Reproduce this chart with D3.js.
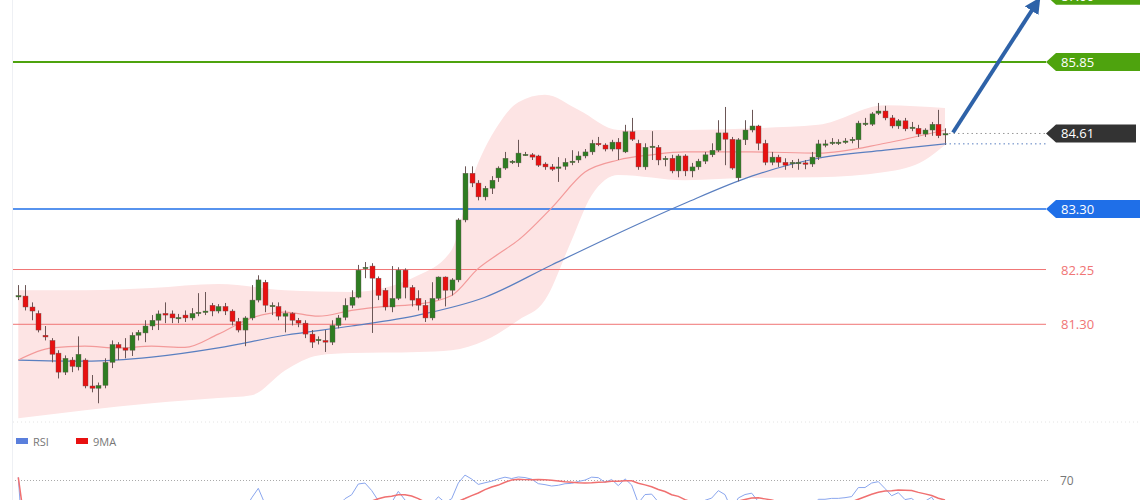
<!DOCTYPE html>
<html>
<head>
<meta charset="utf-8">
<script src="https://cdn.jsdelivr.net/npm/d3@7"></script>
<style>
  body { margin: 0; background: #fff; }
  svg { display: block; font-family: "Open Sans", "DejaVu Sans", sans-serif; }
</style>
</head>
<body>
<svg id="chart" width="1140" height="500"></svg>
<script>
// candles, one per bar
const open = [81.78,81.79,81.60,81.49,81.11,81.02,80.80,80.47,80.68,80.56,80.68,80.23,80.19,80.24,80.64,80.95,80.89,80.85,81.11,81.15,
  81.27,81.37,81.49,81.48,81.41,81.46,81.41,81.49,81.51,81.63,81.53,81.61,81.53,81.35,81.20,81.41,81.72,82.03,81.61,81.61,
  81.44,81.49,81.37,81.32,81.13,81.02,81.02,80.99,81.28,81.42,81.63,81.77,82.28,82.31,82.10,81.89,81.60,81.75,82.24,81.94,
  81.75,81.63,81.41,81.75,82.12,81.89,82.07,83.11,83.92,83.75,83.51,83.66,83.84,84.01,84.11,84.10,84.25,84.24,84.22,84.08,
  84.03,84.01,84.04,84.11,84.15,84.22,84.29,84.44,84.41,84.34,84.46,84.29,84.64,84.44,84.03,84.37,84.37,84.17,84.18,83.96,
  84.22,83.96,84.03,84.13,84.24,84.32,84.62,84.51,83.84,84.50,84.67,84.74,84.44,84.11,84.20,84.11,84.10,84.10,84.10,84.08,
  84.20,84.41,84.44,84.44,84.46,84.50,84.50,84.77,84.77,84.96,85.00,84.88,84.74,84.83,84.70,84.70,84.60,84.67,84.77,84.60];
const high = [81.98,81.98,81.68,81.54,81.27,81.06,80.85,80.76,80.73,81.09,80.71,80.42,80.29,80.71,81.02,80.99,81.06,81.16,81.20,81.37,
  81.46,81.54,81.68,81.54,81.48,81.54,81.58,81.84,81.86,81.67,81.65,81.67,81.56,81.41,81.44,81.98,82.15,82.07,81.68,81.68,
  81.54,81.51,81.41,81.37,81.20,81.09,81.20,81.37,81.46,81.75,81.89,82.33,82.38,82.36,82.13,81.93,82.31,82.29,82.27,81.98,
  81.89,81.72,82.03,82.13,82.13,82.10,83.14,84.04,84.04,83.80,83.70,83.87,84.04,84.29,84.15,84.50,84.29,84.27,84.24,84.11,
  84.08,84.20,84.18,84.32,84.30,84.34,84.50,84.55,84.44,84.50,84.53,84.76,84.88,84.50,84.44,84.65,84.41,84.22,84.24,84.25,
  84.25,84.10,84.17,84.29,84.44,84.84,85.07,84.55,84.53,84.84,85.02,84.76,84.50,84.29,84.24,84.18,84.15,84.17,84.15,84.29,
  84.50,84.50,84.53,84.51,84.53,84.55,84.83,84.88,84.98,85.14,85.09,84.93,84.86,84.88,84.81,84.76,84.70,84.81,85.02,84.70];
const low = [81.72,81.54,81.37,81.16,81.02,80.64,80.36,80.42,80.47,80.50,80.19,80.12,79.93,80.19,80.54,80.68,80.71,80.75,81.02,80.99,
  81.20,81.20,81.32,81.32,81.32,81.34,81.37,81.44,81.46,81.44,81.49,81.46,81.28,81.16,80.92,81.37,81.68,81.51,81.46,81.37,
  81.16,81.28,81.25,81.06,80.89,80.95,80.82,80.94,81.23,81.37,81.58,81.75,82.10,81.15,81.72,81.54,81.51,81.72,81.75,81.61,
  81.54,81.34,81.37,81.72,81.61,81.80,82.03,83.07,83.68,83.45,83.45,83.56,83.77,83.98,84.08,84.03,84.22,84.15,84.03,83.98,
  83.96,83.77,83.98,84.06,84.10,84.18,84.24,84.39,84.30,84.30,84.15,84.27,84.48,83.98,83.98,84.15,84.06,84.04,83.92,83.85,
  83.87,83.85,83.98,84.08,84.20,84.29,84.06,83.98,83.78,84.41,84.63,84.32,84.06,84.06,84.03,83.98,84.01,83.98,83.99,84.03,
  84.15,84.37,84.41,84.41,84.43,84.44,84.36,84.74,84.74,84.93,84.84,84.70,84.69,84.65,84.65,84.55,84.55,84.57,84.53,84.41];
const close = [81.80,81.60,81.53,81.20,81.08,80.78,80.47,80.71,80.57,80.78,80.23,80.19,80.24,80.64,80.95,80.89,80.85,81.11,81.16,81.27,
  81.37,81.48,81.46,81.41,81.42,81.41,81.49,81.51,81.53,81.53,81.61,81.53,81.35,81.20,81.41,81.72,82.07,81.63,81.63,81.44,
  81.49,81.37,81.32,81.13,80.99,81.04,80.99,81.28,81.41,81.63,81.77,82.24,82.29,82.10,81.80,81.60,81.75,82.24,81.94,81.72,
  81.63,81.41,81.75,82.12,81.89,82.07,83.11,83.92,83.75,83.51,83.66,83.80,84.01,84.18,84.13,84.27,84.25,84.20,84.06,84.03,
  83.99,84.03,84.11,84.13,84.22,84.29,84.44,84.43,84.34,84.46,84.34,84.64,84.51,84.03,84.37,84.39,84.15,84.18,83.96,84.22,
  83.96,84.03,84.13,84.24,84.32,84.62,84.51,84.01,84.50,84.67,84.74,84.44,84.11,84.20,84.11,84.06,84.11,84.11,84.08,84.20,
  84.43,84.43,84.46,84.46,84.48,84.51,84.79,84.79,84.95,85.00,84.88,84.74,84.83,84.69,84.72,84.60,84.67,84.77,84.57,84.61];

// overlay lines read at some bars
const slowIdx = [0,10,20,30,40,50,60,70,80,90,100,110,120,130,139];
const slowMA  = [80.68,80.66,80.73,80.89,81.11,81.27,81.46,81.77,82.33,82.88,83.40,83.87,84.18,84.32,84.43];
const fastIdx = [0,5,10,15,20,25,30,35,40,45,50,55,60,65,69,72,75,80,85,90,95,100,110,120,130,139];
const fastMA  = [80.68,80.89,80.92,80.89,80.92,80.90,81.13,81.41,81.51,81.44,81.54,81.61,81.65,81.80,82.27,82.52,82.76,83.32,83.94,84.15,84.24,84.29,84.29,84.27,84.44,84.67];
const upIdx = [0,10,20,30,40,50,60,65,68,72,75,79,84,90,100,110,120,130,139];
const upBand = [81.89,81.89,81.93,82.00,81.89,81.86,82.15,82.59,83.80,84.76,85.15,85.28,85.02,84.67,84.67,84.70,84.76,85.10,85.05];
const loIdx = [0,10,20,30,35,40,45,50,60,65,70,75,79,83,86,90,100,110,120,130,136,139];
const loBand = [79.67,79.81,79.93,80.02,80.07,80.50,80.76,80.80,80.82,80.85,81.02,81.37,81.72,82.76,83.54,83.89,83.80,83.84,83.85,83.94,84.15,84.41];

const levels = [
  {v: 87.00, color: "#4ea30e", kind: "box"},
  {v: 85.85, color: "#4ea30e", kind: "box"},
  {v: 83.30, color: "#1f6fe8", kind: "box"},
  {v: 82.25, color: "#f07575", kind: "text"},
  {v: 81.30, color: "#f07575", kind: "text"}
];
const lastPrice = 84.61;

const svg = d3.select("#chart");
const x = d3.scaleLinear().domain([0, close.length - 1]).range([18.3, 945]);
const y = d3.scaleLinear().domain([83.30, 85.85]).range([209, 62]);

// frame
svg.append("line").attr("x1", 12.5).attr("x2", 12.5).attr("y1", 0).attr("y2", 500).attr("stroke", "#eef0f4");

// bollinger band
const curve = d3.line().curve(d3.curveMonotoneX);
const upPts = upIdx.map((d, i) => [x(d), y(upBand[i])]);
const loPts = loIdx.map((d, i) => [x(d), y(loBand[i])]).reverse();
const loPath = d3.line().curve(d3.curveMonotoneX)(loPts);
svg.append("path")
  .attr("d", curve(upPts) + "L" + loPath.slice(1) + "Z")
  .attr("fill", "#fde4e4");

// levels
levels.forEach(l => {
  const yy = y(l.v);
  svg.append("line").attr("x1", 13).attr("x2", 1046).attr("y1", yy).attr("y2", yy)
    .attr("stroke", l.color).attr("stroke-width", l.kind === "box" ? (l.color === "#4ea30e" ? 2 : 1.3) : 1);
  if (l.kind === "box") {
    svg.append("path")
      .attr("d", `M1046,${yy} L1056,${yy - 9} L1140,${yy - 9} L1140,${yy + 9} L1056,${yy + 9} Z`)
      .attr("fill", l.color);
    svg.append("text").attr("x", 1061).attr("y", yy + 5).attr("fill", "#fff")
      .attr("font-size", 13).text(l.v.toFixed(2));
  } else {
    svg.append("text").attr("x", 1061).attr("y", yy + 5).attr("fill", l.color)
      .attr("font-size", 13).text(l.v.toFixed(2));
  }
});

// moving averages
svg.append("path").attr("d", curve(slowIdx.map((d, i) => [x(d), y(slowMA[i])])))
  .attr("fill", "none").attr("stroke", "#5a7fc0").attr("stroke-width", 1.2);
svg.append("path").attr("d", curve(fastIdx.map((d, i) => [x(d), y(fastMA[i])])))
  .attr("fill", "none").attr("stroke", "#f39a9a").attr("stroke-width", 1.2);

// candles
const g = svg.append("g");
close.forEach((c, i) => {
  const o = open[i], up = c >= o;
  const cx = Math.round(x(i)) + 0.5;
  g.append("line").attr("x1", cx).attr("x2", cx).attr("y1", y(high[i])).attr("y2", y(low[i]))
    .attr("stroke", "#6b5656").attr("stroke-width", 1);
  const top = y(Math.max(o, c)), h = Math.max(1.5, Math.abs(y(o) - y(c)));
  g.append("rect").attr("x", cx - 2.5).attr("y", top).attr("width", 5).attr("height", h)
    .attr("fill", up ? "#2e7d22" : "#e81010").attr("stroke", "#6b5656").attr("stroke-width", 0.4);
});

// last price + slow MA markers
const lastX = x(close.length - 1);
svg.append("line").attr("x1", lastX + 4).attr("x2", 1046).attr("y1", y(lastPrice)).attr("y2", y(lastPrice))
  .attr("stroke", "#999").attr("stroke-dasharray", "1.5,3");
svg.append("line").attr("x1", lastX).attr("x2", 1046)
  .attr("y1", y(slowMA[slowMA.length - 1])).attr("y2", y(slowMA[slowMA.length - 1]))
  .attr("stroke", "#5a7fc0").attr("stroke-dasharray", "1.5,3");
const ly = y(lastPrice);
svg.append("path")
  .attr("d", `M1046,${ly} L1056,${ly - 9} L1136,${ly - 9} L1136,${ly + 9} L1056,${ly + 9} Z`)
  .attr("fill", "#333");
svg.append("text").attr("x", 1061).attr("y", ly + 5).attr("fill", "#fff").attr("font-size", 13)
  .text(lastPrice.toFixed(2));

// forecast arrow
const defs = svg.append("defs");
defs.append("marker").attr("id", "ah").attr("viewBox", "0 0 10 10").attr("refX", 5).attr("refY", 5)
  .attr("markerWidth", 4).attr("markerHeight", 4).attr("orient", "auto")
  .append("path").attr("d", "M0,0 L10,5 L0,10 Z").attr("fill", "#2e62a8");
svg.append("line").attr("x1", lastX + 8).attr("y1", ly - 1).attr("x2", 1036).attr("y2", 4)
  .attr("stroke", "#2e62a8").attr("stroke-width", 4).attr("marker-end", "url(#ah)");

// RSI panel
svg.append("line").attr("x1", 13).attr("x2", 1140).attr("y1", 422).attr("y2", 422)
  .attr("stroke", "#e4e4e4").attr("stroke-dasharray", "1,3");
const leg = svg.append("g").attr("font-size", 11).attr("fill", "#777");
leg.append("rect").attr("x", 16).attr("y", 438).attr("width", 12).attr("height", 6).attr("fill", "#5a7fdc");
leg.append("text").attr("x", 33).attr("y", 446).text("RSI");
leg.append("rect").attr("x", 76).attr("y", 438).attr("width", 12).attr("height", 6).attr("fill", "#e81010");
leg.append("text").attr("x", 93).attr("y", 446).text("9MA");

const rsiY = d3.scaleLinear().domain([70, 100]).range([480, 440]);
svg.append("line").attr("x1", 15).attr("x2", 1050).attr("y1", 480.5).attr("y2", 480.5)
  .attr("stroke", "#aaa").attr("stroke-dasharray", "1,2");
svg.append("text").attr("x", 1060).attr("y", 485).attr("font-size", 12).attr("fill", "#777").text("70");

// RSI(14) computed from the closes
const rsi = [];
let ag = 0, al = 0;
close.forEach((c, i) => {
  if (i === 0) { rsi.push(72); return; }
  const ch = c - close[i - 1], n = Math.min(i, 14);
  ag = (ag * (n - 1) + Math.max(ch, 0)) / n;
  al = (al * (n - 1) + Math.max(-ch, 0)) / n;
  rsi.push(al === 0 ? 100 : 100 - 100 / (1 + ag / al));
});
const rsiMA = rsi.map((d, i) => d3.mean(rsi.slice(Math.max(0, i - 8), i + 1)));
const clip = defs.append("clipPath").attr("id", "rc");
clip.append("rect").attr("x", 0).attr("y", 425).attr("width", 1140).attr("height", 75);
const rl = d3.line().x((d, i) => x(i)).y(d => rsiY(d));
svg.append("path").attr("clip-path", "url(#rc)").attr("d", rl(rsi))
  .attr("fill", "none").attr("stroke", "#8aa6ee").attr("stroke-width", 1);
svg.append("path").attr("clip-path", "url(#rc)").attr("d", rl(rsiMA))
  .attr("fill", "none").attr("stroke", "#f07070").attr("stroke-width", 1.5);
</script>
</body>
</html>
